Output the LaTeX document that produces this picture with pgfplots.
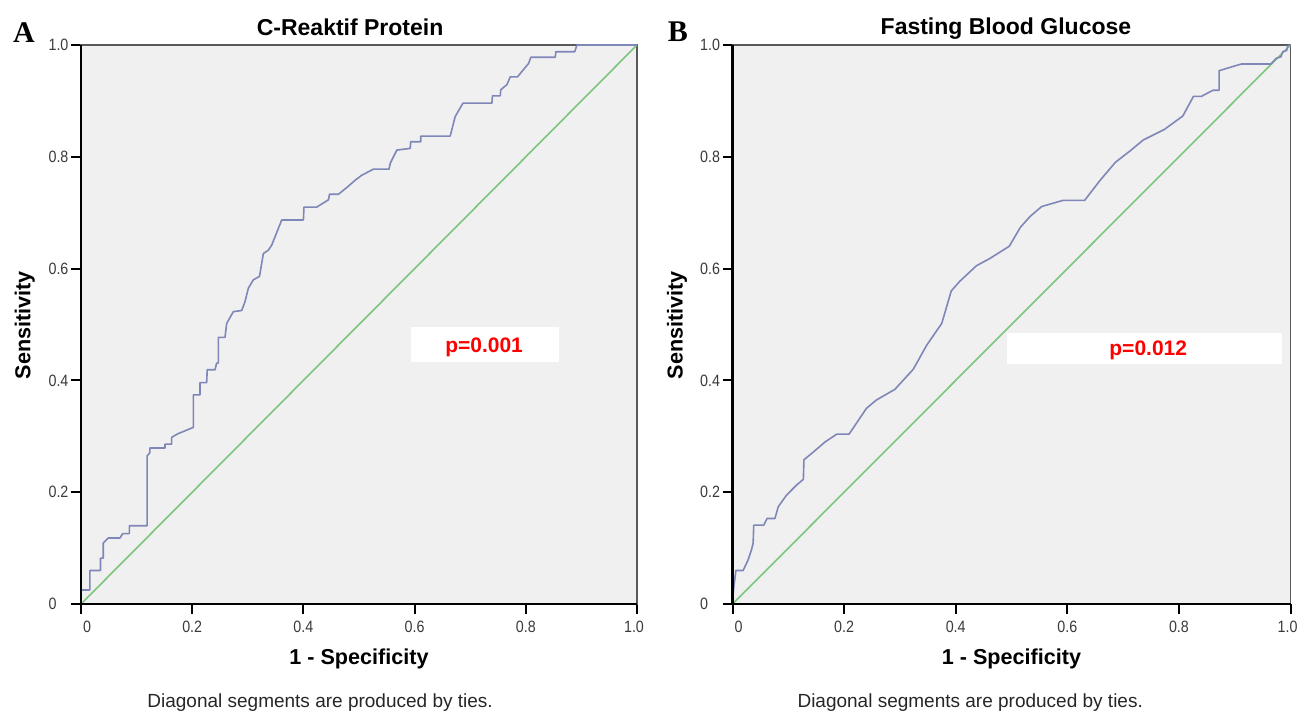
\documentclass[border=0pt]{standalone}
\usepackage{pgfplots}
\pgfplotsset{compat=1.18}
\usepackage{fontspec}
\setmainfont{Liberation Sans}
\newfontfamily\panelfont{Liberation Serif}
\newfontfamily\tickfont{Liberation Sans}[FakeStretch=0.87]
\definecolor{bggray}{HTML}{F0F0F0}
\definecolor{roc}{HTML}{7F87B9}
\definecolor{diag}{HTML}{7CC67C}
\definecolor{ticktext}{HTML}{3A3A3A}

\pgfplotsset{
  rocaxis/.style={
    scale only axis, height=279.5pt,
    xmin=0, xmax=1, ymin=0, ymax=1,
    axis background/.style={fill=bggray},
    axis line style={draw=black!65, line width=0.7pt},
    xtick={0,0.2,0.4,0.6,0.8,1}, ytick={0,0.2,0.4,0.6,0.8,1},
    xticklabels={{\hspace*{6pt}0},0.2,0.4,0.6,0.8,{\hspace*{-3pt}1.0}},
    yticklabels={0,0.2,0.4,0.6,0.8,1.0},
    tick align=outside, xtick pos=bottom, ytick pos=left,
    major tick length=5pt,
    major tick style={black, line width=1pt},
    tick label style={font=\tickfont\fontsize{8.2}{9}\selectfont, text=ticktext},
    yticklabel style={text width=10pt, align=left, inner sep=1pt},
    /pgf/number format/assume math mode=true,
    % the default title style shifts up by 6pt; cancel it
    title style={font=\bfseries\fontsize{11.5}{13}\selectfont, anchor=center, yshift=-6pt},
    xlabel style={font=\bfseries\fontsize{10.8}{12}\selectfont, anchor=center,
      at={(axis description cs:0.5,-0.098)}},
    ylabel style={font=\bfseries\fontsize{10.8}{12}\selectfont, anchor=center, rotate=0},
    xlabel={1 - Specificity}, ylabel={Sensitivity},
    clip=false,
  },
  rocline/.style={color=roc, line width=0.8pt, line join=round},
  diagline/.style={color=diag, line width=0.8pt},
}

\begin{document}
\begin{tikzpicture}
\useasboundingbox (0,0) rectangle (649.5pt,356.5pt);

% Panel A
\begin{axis}[rocaxis, width=278pt,
  at={(40.5pt,54.5pt)}, anchor=south west,
  title={C-Reaktif Protein},
  title style={at={(axis description cs:0.484,1.032)}},
  ylabel style={at={(axis description cs:-0.101,0.499)}},
]
\addplot[diagline] coordinates {(0,0) (1,1)};
\addplot[rocline] coordinates {
(0,0) (0,0.025) (0.016,0.025) (0.016,0.060) (0.035,0.060) (0.035,0.082)
(0.040,0.082) (0.040,0.109) (0.049,0.118) (0.070,0.118) (0.075,0.126)
(0.087,0.126) (0.087,0.140) (0.119,0.140) (0.119,0.265) (0.124,0.271)
(0.124,0.279) (0.151,0.279) (0.151,0.286) (0.163,0.286) (0.163,0.298)
(0.173,0.304) (0.202,0.316) (0.202,0.374) (0.214,0.374) (0.214,0.396)
(0.226,0.396) (0.227,0.419) (0.241,0.419) (0.244,0.431) (0.247,0.431)
(0.247,0.477) (0.259,0.477) (0.262,0.502) (0.274,0.523) (0.289,0.525)
(0.295,0.541) (0.301,0.565) (0.310,0.580) (0.321,0.586) (0.328,0.627)
(0.337,0.633) (0.343,0.642) (0.361,0.687) (0.400,0.687) (0.401,0.710)
(0.424,0.710) (0.445,0.723) (0.447,0.733) (0.463,0.733) (0.478,0.745)
(0.493,0.758) (0.505,0.767) (0.526,0.778) (0.554,0.778) (0.556,0.788)
(0.568,0.812) (0.592,0.815) (0.593,0.827) (0.611,0.827) (0.611,0.837)
(0.664,0.837) (0.673,0.872) (0.680,0.884) (0.687,0.896) (0.739,0.896)
(0.740,0.909) (0.754,0.909) (0.755,0.920) (0.766,0.929) (0.772,0.943)
(0.785,0.943) (0.805,0.967) (0.809,0.978) (0.853,0.978) (0.854,0.988)
(0.888,0.988) (0.892,1.0) (1,1)
};
\draw[black, line width=1.1pt] (rel axis cs:0,1) -- (rel axis cs:0,0) -- (rel axis cs:1,0);
\fill[white] (axis cs:0.594,0.433) rectangle (axis cs:0.860,0.496);
\node[text=red, font=\bfseries\fontsize{10.5}{12}\selectfont] at (axis cs:0.725,0.460) {p=0.001};
\node[font=\fontsize{9.5}{11}\selectfont, text=black!85] at (axis description cs:0.43,-0.177) {Diagonal segments are produced by ties.};
\node[font=\panelfont\bfseries\fontsize{15}{17}\selectfont] at (axis description cs:-0.1025,1.023) {A};
\end{axis}

% Panel B
\begin{axis}[rocaxis, width=279pt,
  at={(366.25pt,54.5pt)}, anchor=south west,
  title={Fasting Blood Glucose},
  title style={at={(axis description cs:0.490,1.030)}},
  ylabel style={at={(axis description cs:-0.0995,0.499)}},
]
\addplot[diagline] coordinates {(0,0) (1,1)};
\addplot[rocline] coordinates {
(0,0) (0.001,0.019) (0.006,0.060) (0.019,0.060) (0.028,0.079) (0.034,0.097)
(0.037,0.109) (0.038,0.141) (0.056,0.141) (0.062,0.153) (0.076,0.153)
(0.082,0.174) (0.097,0.195) (0.115,0.213) (0.127,0.223) (0.128,0.258)
(0.145,0.272) (0.166,0.290) (0.187,0.304) (0.209,0.304) (0.240,0.350)
(0.258,0.365) (0.291,0.384) (0.324,0.420) (0.348,0.463) (0.375,0.502)
(0.392,0.560) (0.407,0.577) (0.437,0.605) (0.461,0.618) (0.496,0.640)
(0.516,0.674) (0.533,0.693) (0.554,0.711) (0.592,0.722) (0.631,0.722)
(0.658,0.757) (0.686,0.790) (0.713,0.811) (0.736,0.830) (0.774,0.849)
(0.807,0.873) (0.826,0.908) (0.840,0.908) (0.861,0.919) (0.872,0.919)
(0.872,0.954) (0.885,0.958) (0.912,0.966) (0.965,0.966) (0.974,0.976)
(0.983,0.979) (0.986,0.988) (0.993,0.990) (0.995,0.998) (1,1)
};
\draw[black, line width=1.1pt] (rel axis cs:0,1) -- (rel axis cs:0,0) -- (rel axis cs:1,0);
\fill[white] (axis cs:0.492,0.429) rectangle (axis cs:0.985,0.485);
\node[text=red, font=\bfseries\fontsize{10.5}{12}\selectfont] at (axis cs:0.745,0.454) {p=0.012};
\node[font=\fontsize{9.5}{11}\selectfont, text=black!85] at (axis description cs:0.426,-0.177) {Diagonal segments are produced by ties.};
\node[font=\panelfont\bfseries\fontsize{15}{17}\selectfont] at (axis description cs:-0.098,1.023) {B};
\end{axis}
\end{tikzpicture}
\end{document}
